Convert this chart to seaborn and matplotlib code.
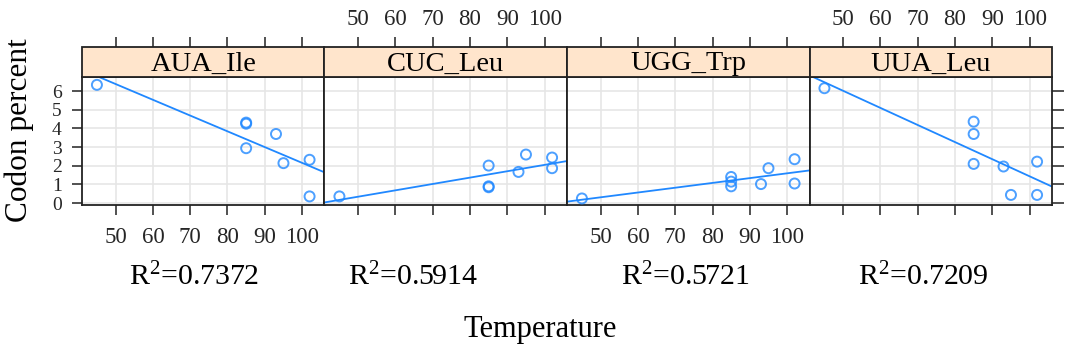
import numpy as np
import pandas as pd
import matplotlib
matplotlib.use("Agg")
import matplotlib.pyplot as plt
from matplotlib.patches import Rectangle
import seaborn as sns

# ---------------- data ----------------
temperature = [45, 85, 85, 85, 93, 95, 102, 102]
codons = ["AUA_Ile", "CUC_Leu", "UGG_Trp", "UUA_Leu"]
aua_ile = [6.33, 4.31, 4.25, 2.94, 3.70, 2.14, 2.32, 0.36]
cuc_leu = [0.36, 2.01, 0.90, 0.85, 1.67, 2.60, 2.44, 1.87]
ugg_trp = [0.25, 1.40, 1.15, 0.90, 1.02, 1.87, 2.35, 1.05]
uua_leu = [6.15, 4.36, 3.70, 2.10, 1.96, 0.44, 2.22, 0.44]
r2_labels = ["0.7372", "0.5914", "0.5721", "0.7209"]
x_ticks = [50, 60, 70, 80, 90, 100]
y_ticks = [0, 1, 2, 3, 4, 5, 6]

values = {"AUA_Ile": aua_ile, "CUC_Leu": cuc_leu,
          "UGG_Trp": ugg_trp, "UUA_Leu": uua_leu}
df = pd.concat([pd.DataFrame({"Temperature": temperature,
                              "Codon percent": values[c],
                              "codon": c}) for c in codons],
               ignore_index=True)

# ---------------- style ----------------
sns.set_theme(style="white")
plt.rcParams["font.family"] = ["Liberation Serif", "DejaVu Serif"]
plt.rcParams["mathtext.fontset"] = "custom"
plt.rcParams["mathtext.rm"] = "Liberation Serif"
plt.rcParams["mathtext.it"] = "Liberation Serif:italic"

W, H = 1077, 355
fig, axes = plt.subplots(1, 4, figsize=(W / 100, H / 100), dpi=100, sharey=True)
left, right = 82 / W, 1052 / W
bottom, top = 1 - 205 / H, 1 - 77 / H
fig.subplots_adjust(left=left, right=right, bottom=bottom, top=top, wspace=0)

blue = "#2088ff"
strip_col = "#ffe5cc"
border = "#222222"
tick_col = "#333333"
strip_frac = 30 / 128.0

for i, (ax, codon) in enumerate(zip(axes, codons)):
    sub = df[df["codon"] == codon]
    ax.set_xlim(41.0, 106.0)
    ax.set_ylim(-0.1, 6.75)
    ax.set_facecolor("white")
    ax.grid(True, color="#e6e6e6", lw=1.2)
    ax.set_axisbelow(True)
    sns.regplot(data=sub, x="Temperature", y="Codon percent", ax=ax,
                ci=None, truncate=False, marker="o",
                scatter_kws=dict(facecolors="none", edgecolors=blue, s=52,
                                 linewidths=1.4, zorder=3),
                line_kws=dict(color=blue, lw=1.3, zorder=2))
    ax.set_xlabel("")
    ax.set_ylabel("")
    for sp in ax.spines.values():
        sp.set_color(border)
        sp.set_linewidth(1.3)

    # x ticks (bottom)
    ax.set_xticks(x_ticks)
    ax.tick_params(axis="x", which="both", direction="out", length=7.5,
                   width=1.2, color=tick_col, labelsize=16.5, pad=8,
                   bottom=True, labelbottom=(i in (0, 2)))
    # y ticks
    ax.set_yticks(y_ticks)
    if i == 0:
        ax.tick_params(axis="y", direction="out", length=7.5, width=1.2,
                       color=tick_col, labelsize=14, pad=7, left=True,
                       labelleft=True, right=False)
    elif i == 3:
        ax.tick_params(axis="y", direction="out", length=8.5, width=1.2,
                       color=tick_col, left=False, labelleft=False,
                       right=True, labelright=False)
    else:
        ax.tick_params(axis="y", left=False, right=False,
                       labelleft=False, labelright=False)

    # strip
    ax.add_patch(Rectangle((0, 1), 1, strip_frac, transform=ax.transAxes,
                           facecolor=strip_col, edgecolor=border, lw=1.3,
                           clip_on=False, zorder=5))
    ax.text(0.5, 1 + 6.5 / 128.0, codon, transform=ax.transAxes,
            ha="center", va="baseline", fontsize=20.5, color="black",
            zorder=6)

    # top axis above strip
    sec = ax.secondary_xaxis(1 + strip_frac)
    sec.set_xticks(x_ticks)
    sec.spines["top"].set_visible(False)
    sec.tick_params(axis="x", direction="out", length=7.5, width=1.2,
                    color=tick_col, labelsize=16.5, pad=5,
                    labeltop=(i in (1, 3)))
    if i not in (1, 3):
        sec.set_xticklabels([])

# R^2 annotations
r2_x = [194, 413, 685, 923]
for xc, r2 in zip(r2_x, r2_labels):
    fig.text(xc / W, 1 - 285 / H, r"R$^{2}$=" + r2, ha="center",
             va="baseline", fontsize=21.5, color="black")

fig.text(540 / W, 1 - 330 / H, "Temperature", ha="center", va="center",
         fontsize=22, color="black")
fig.text(19 / W, 1 - 130 / H, "Codon percent", ha="center", va="center",
         rotation=90, fontsize=22.5, color="black")

fig.savefig("out.png", dpi=100, facecolor="white")
